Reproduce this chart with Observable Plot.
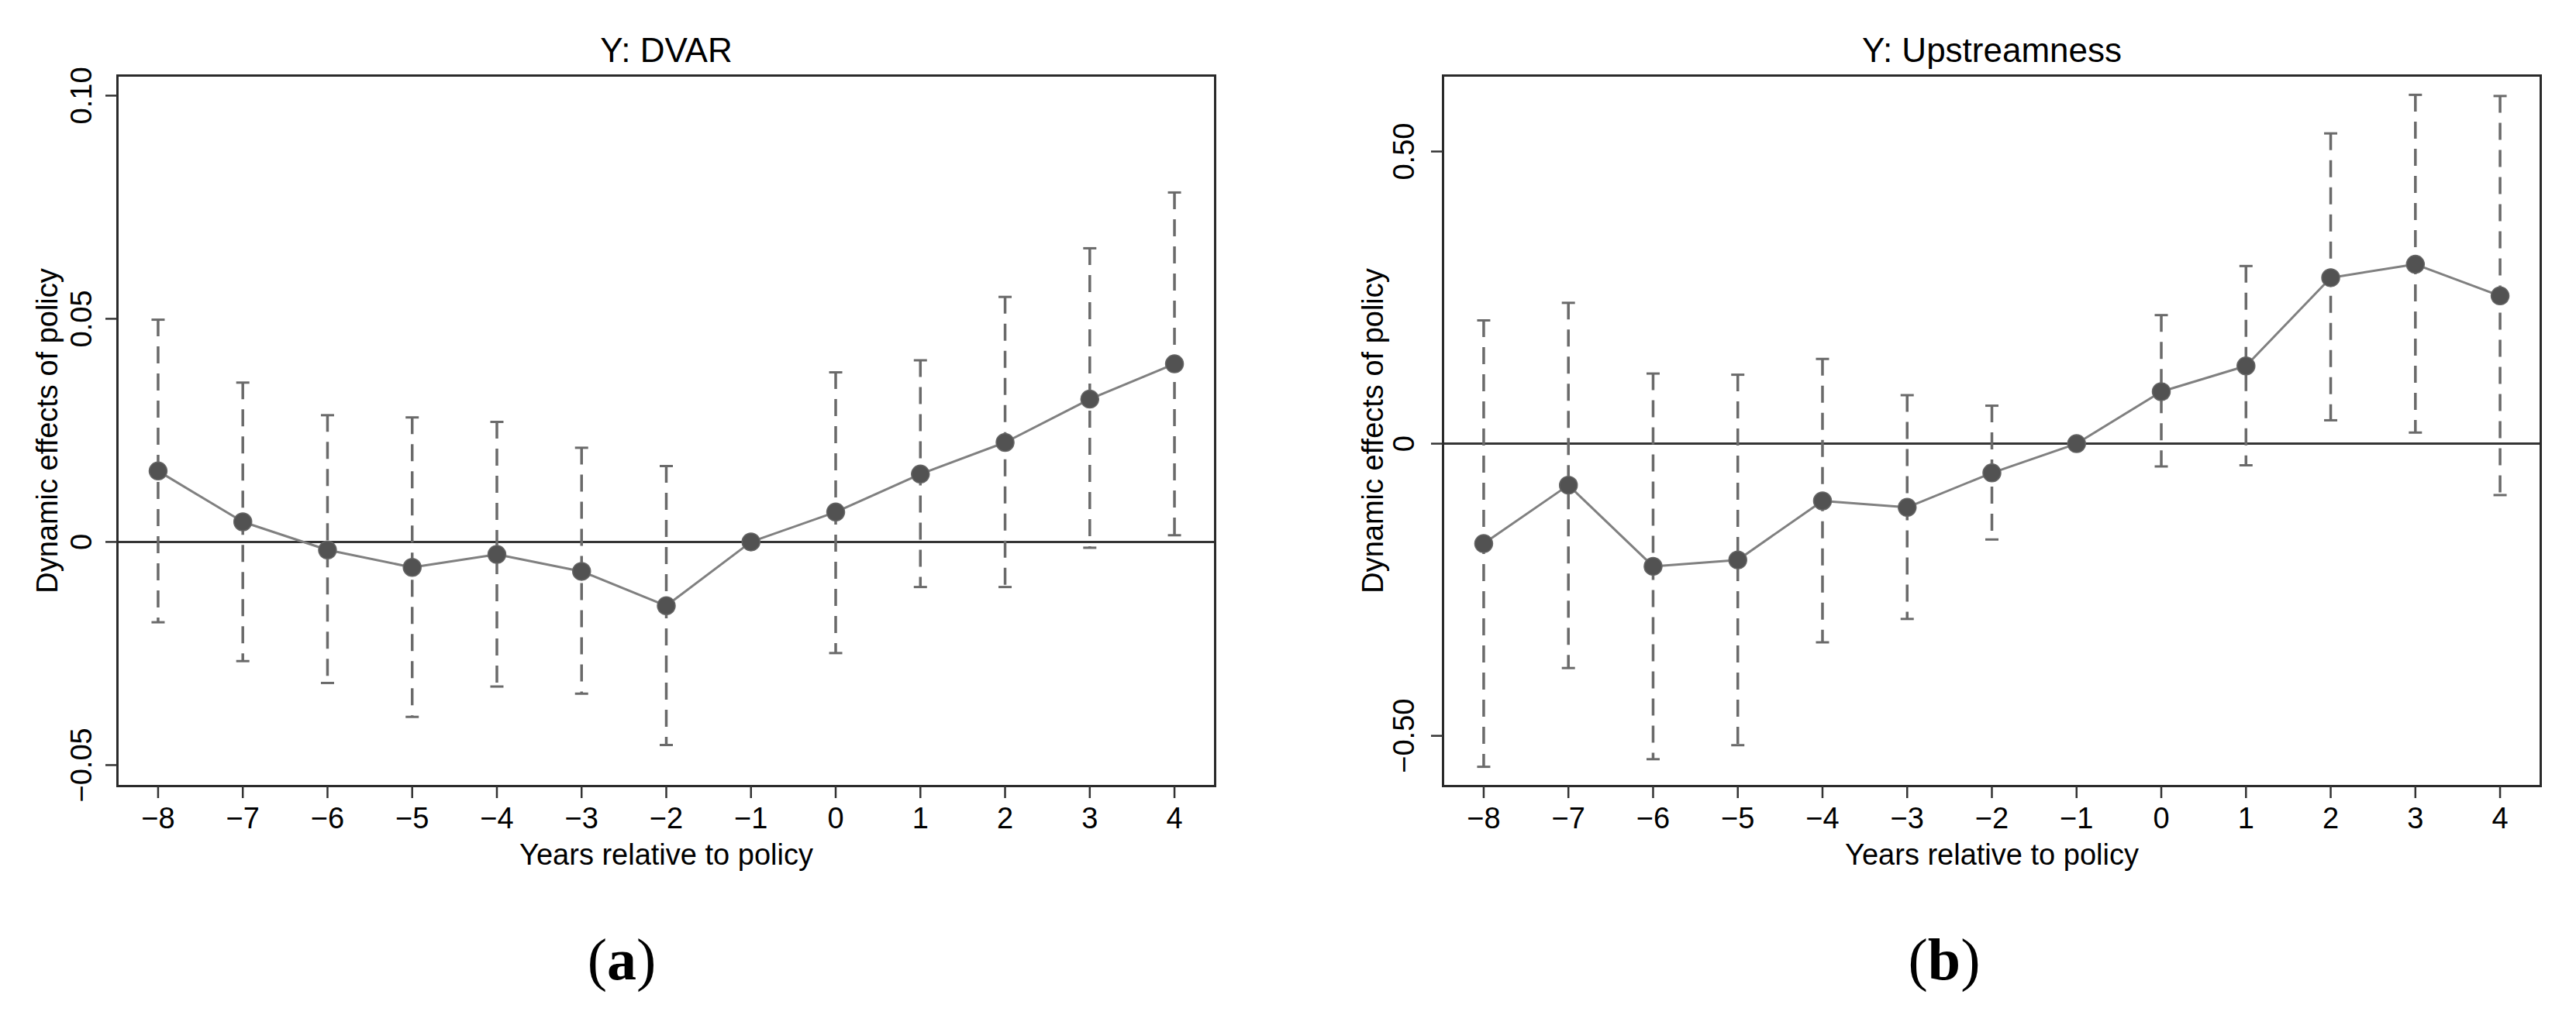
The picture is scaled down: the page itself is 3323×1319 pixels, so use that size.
<!DOCTYPE html>
<html><head><meta charset="utf-8">
<script src="https://cdn.jsdelivr.net/npm/d3@7"></script>
<script src="https://cdn.jsdelivr.net/npm/@observablehq/plot@0.6"></script>
<style>
body{margin:0;background:#fff;}
#wrap{position:relative;width:3323px;height:1319px;overflow:hidden;background:#fff;}
.panel{position:absolute;top:0;}
.cap{position:absolute;top:1200px;font-family:"Liberation Serif","DejaVu Serif",serif;font-size:76px;line-height:76px;text-align:center;color:#000;}
</style></head><body>
<div id="wrap">
 <div id="pa" class="panel" style="left:0"></div>
 <div id="pb" class="panel" style="left:1660px"></div>
 <div class="cap" style="left:0;width:1604px">(<b>a</b>)</div>
 <div class="cap" style="left:1660px;width:1696px">(<b>b</b>)</div>
</div>
<script>
// ---- data ----
const years = [-8, -7, -6, -5, -4, -3, -2, -1, 0, 1, 2, 3, 4];
const yearLabels = ["−8", "−7", "−6", "−5", "−4", "−3", "−2", "−1", "0", "1", "2", "3", "4"];

const dvarCoef  = [0.0159, 0.0045, -0.0018, -0.0057, -0.0028, -0.0066, -0.0143, 0, 0.0067, 0.0152, 0.0223, 0.0320, 0.0399];
const dvarUpper = [0.0498, 0.0357, 0.0284, 0.0279, 0.0269, 0.0211, 0.0170, null, 0.0380, 0.0407, 0.0549, 0.0658, 0.0783];
const dvarLower = [-0.0180, -0.0267, -0.0316, -0.0392, -0.0324, -0.0340, -0.0455, null, -0.0249, -0.0101, -0.0101, -0.0013, 0.0015];
const dvarTicks = [-0.05, 0, 0.05, 0.10];
const dvarTickLabels = ["−0.05", "0", "0.05", "0.10"];

const upCoef  = [-0.171, -0.071, -0.210, -0.199, -0.098, -0.109, -0.050, 0, 0.089, 0.133, 0.284, 0.307, 0.253];
const upUpper = [0.211, 0.241, 0.120, 0.118, 0.145, 0.083, 0.065, null, 0.220, 0.304, 0.531, 0.597, 0.595];
const upLower = [-0.553, -0.384, -0.540, -0.516, -0.340, -0.300, -0.164, null, -0.039, -0.037, 0.040, 0.019, -0.088];
const upTicks = [-0.5, 0, 0.5];
const upTickLabels = ["−0.50", "0", "0.50"];

const xTitle = "Years relative to policy";
const yTitle = "Dynamic effects of policy";

// horizontal cap symbol for CI ends
const capSymbol = {
  draw(ctx, size) {
    const w = Math.sqrt(size / Math.PI);
    ctx.moveTo(-w, 0);
    ctx.lineTo(w, 0);
  }
};

function panel({coef, upper, lower, ticks, tickLabels, domain, title, width, marginLeft, marginRight, tickPadding}) {
  const rows = years.map((x, i) => ({x, y: coef[i], lo: lower[i], hi: upper[i]}));
  const ci = rows.filter(d => d.lo != null && d.hi != null);
  const ciColor = "#6a6a6a";
  return Plot.plot({
    width, height: 1150,
    marginLeft, marginRight, marginTop: 97, marginBottom: 136,
    x: {domain: [-8.48, 4.48], label: null},
    y: {domain, label: null},
    style: {fontFamily: "'Liberation Sans', Arial, Helvetica, sans-serif", fontSize: "38px", color: "#000", background: "transparent", overflow: "visible"},
    marks: [
      Plot.ruleY([0], {stroke: "#353535", strokeWidth: 3}),
      Plot.ruleX(ci, {x: "x", y1: "hi", y2: "lo", stroke: ciColor, strokeWidth: 3.5, strokeDasharray: "22,13"}),
      Plot.dot(ci, {x: "x", y: "hi", symbol: capSymbol, r: 8.5, stroke: ciColor, strokeWidth: 3, fill: "none"}),
      Plot.dot(ci, {x: "x", y: "lo", symbol: capSymbol, r: 8.5, stroke: ciColor, strokeWidth: 3, fill: "none"}),
      Plot.line(rows, {x: "x", y: "y", stroke: "#808080", strokeWidth: 3}),
      Plot.dot(rows, {x: "x", y: "y", r: 11.5, fill: "#525252", stroke: "#666", strokeWidth: 1.5}),
      Plot.frame({stroke: "#2a2a2a", strokeWidth: 3}),
      Plot.axisX({ticks: years, tickFormat: d => yearLabels[years.indexOf(d)], tickSize: 16, tickPadding: 12, fontSize: 38, stroke: "#333", strokeWidth: 2.5, label: null}),
      Plot.axisY({ticks, tickFormat: d => tickLabels[ticks.indexOf(d)], tickSize: 15, tickPadding, tickRotate: -90, textAnchor: "middle", lineAnchor: "bottom", fontSize: 38, stroke: "#333", strokeWidth: 2.5, label: null}),
      Plot.text([title], {text: d => d, frameAnchor: "top", dy: -18, lineAnchor: "bottom", fontSize: 44, fill: "#000"}),
      Plot.text([xTitle], {text: d => d, frameAnchor: "bottom", dy: 101, lineAnchor: "bottom", fontSize: 38, fill: "#000"}),
      Plot.text([yTitle], {text: d => d, frameAnchor: "left", dx: -78, rotate: -90, textAnchor: "middle", lineAnchor: "bottom", fontSize: 38, fill: "#000"})
    ]
  });
}

document.getElementById("pa").append(panel({
  coef: dvarCoef, upper: dvarUpper, lower: dvarLower,
  ticks: dvarTicks, tickLabels: dvarTickLabels,
  domain: [-0.0547, 0.1045], title: "Y: DVAR",
  width: 1660, marginLeft: 151, marginRight: 93, tickPadding: 19
}));
document.getElementById("pb").append(panel({
  coef: upCoef, upper: upUpper, lower: upLower,
  ticks: upTicks, tickLabels: upTickLabels,
  domain: [-0.586, 0.630], title: "Y: Upstreamness",
  width: 1663, marginLeft: 201, marginRight: 46, tickPadding: 23
}));
</script>
</body></html>
